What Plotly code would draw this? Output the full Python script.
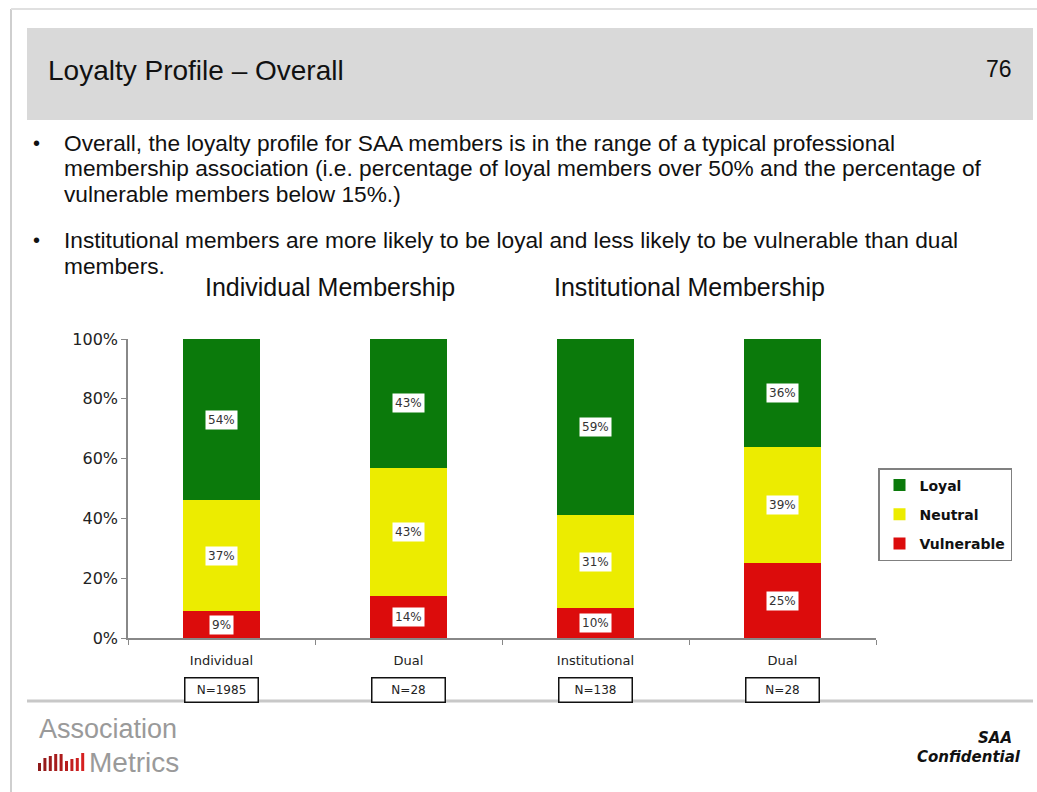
import plotly.graph_objects as go

# ---------------- data ----------------
categories = ["Individual", "Dual", "Institutional", "Dual"]
sample_sizes = ["N=1985", "N=28", "N=138", "N=28"]
vulnerable = [9, 14, 10, 25]
neutral = [37, 43, 31, 39]
loyal = [54, 43, 59, 36]
y_ticks = [0, 20, 40, 60, 80, 100]
group_titles = ["Individual Membership", "Institutional Membership"]
bullets = [
    ["Overall, the loyalty profile for SAA members is in the range of a typical professional",
     "membership association (i.e. percentage of loyal members over 50% and the percentage of",
     "vulnerable members below 15%.)"],
    ["Institutional members are more likely to be loyal and less likely to be vulnerable than dual",
     "members."],
]

W, H = 1037, 792
L, R, T, B = 128, 876, 339, 638  # plot area in pixels


def X(px):
    return (px - L) / (R - L)


def Y(py):
    return (B - py) / (B - T)


xs = list(range(len(categories)))
series = [
    ("Vulnerable", vulnerable, "#dc0c0c", 3),
    ("Neutral", neutral, "#ecec00", 2),
    ("Loyal", loyal, "#0b7a0b", 1),
]

fig = go.Figure()
for name, vals, col, rank in series:
    fig.add_trace(go.Bar(
        x=xs, y=vals, name=name, width=0.41,
        marker=dict(color=col, line=dict(width=0)),
        legendgroup=name, legendrank=rank, hoverinfo="skip",
    ))

annotations = []
# value labels (white boxes) at segment centres
base = [0] * len(xs)
for name, vals, col, rank in series:
    for i, v in enumerate(vals):
        annotations.append(dict(
            x=xs[i], y=base[i] + v / 2, xref="x", yref="y",
            text=f"{v}%", showarrow=False,
            font=dict(family="DejaVu Sans", size=12, color="#333333"),
            bgcolor="white", borderpad=2,
        ))
        base[i] += v

# N= boxes under category labels
for i, n in enumerate(sample_sizes):
    annotations.append(dict(
        x=xs[i], y=0, xref="x", yref="y", yanchor="middle", yshift=-52,
        text=n, showarrow=False,
        font=dict(family="DejaVu Sans", size=12, color="#222222"),
        bgcolor="white", bordercolor="#111111", borderwidth=1.5, borderpad=3,
        width=66, height=17,
    ))

# header texts
annotations.append(dict(x=X(46), y=Y(70), xref="paper", yref="paper", xanchor="left", yanchor="middle",
                        text="Loyalty Profile – Overall", showarrow=False,
                        font=dict(family="Liberation Sans", size=28, color="#111111")))
annotations.append(dict(x=X(1014), y=Y(69), xref="paper", yref="paper", xanchor="right", yanchor="middle",
                        text="76", showarrow=False,
                        font=dict(family="Liberation Sans", size=23, color="#111111")))

# bullets
line_y = [[143, 168, 194], [240, 266]]
for b, lines in enumerate(bullets):
    annotations.append(dict(x=X(31), y=Y(line_y[b][0]), xref="paper", yref="paper",
                            xanchor="left", yanchor="middle", text="•", showarrow=False,
                            font=dict(family="Liberation Sans", size=20, color="#111111")))
    for k, t in enumerate(lines):
        annotations.append(dict(x=X(62), y=Y(line_y[b][k]), xref="paper", yref="paper",
                                xanchor="left", yanchor="middle", text=t, showarrow=False,
                                font=dict(family="Liberation Sans", size=22.7, color="#111111")))

# group titles
for gx, gt in zip([330, 689], group_titles):
    annotations.append(dict(x=X(gx), y=Y(287), xref="paper", yref="paper",
                            xanchor="center", yanchor="middle", text=gt, showarrow=False,
                            font=dict(family="Liberation Sans", size=25, color="#111111")))

# footer
annotations.append(dict(x=X(37), y=Y(729), xref="paper", yref="paper", xanchor="left", yanchor="middle",
                        text="Association", showarrow=False,
                        font=dict(family="Liberation Sans", size=27, color="#9a9a9a")))
annotations.append(dict(x=X(87), y=Y(762), xref="paper", yref="paper", xanchor="left", yanchor="middle",
                        text="Metrics", showarrow=False,
                        font=dict(family="Liberation Sans", size=28, color="#9a9a9a")))
annotations.append(dict(x=X(995), y=Y(738), xref="paper", yref="paper", xanchor="center", yanchor="middle",
                        text="<b><i>SAA</i></b>", showarrow=False,
                        font=dict(family="DejaVu Sans", size=15, color="#111111")))
annotations.append(dict(x=X(1023), y=Y(757), xref="paper", yref="paper", xanchor="right", yanchor="middle",
                        text="<b><i>Confidential</i></b>", showarrow=False,
                        font=dict(family="DejaVu Sans", size=15, color="#111111")))

shapes = [
    # slide frame
    dict(type="line", xref="paper", yref="paper", x0=X(11), x1=X(11), y0=Y(9), y1=Y(792),
         line=dict(color="#cfcfcf", width=2), layer="below"),
    dict(type="line", xref="paper", yref="paper", x0=X(11), x1=X(1037), y0=Y(9), y1=Y(9),
         line=dict(color="#e0e0e0", width=2), layer="below"),
    # header band
    dict(type="rect", xref="paper", yref="paper", x0=X(27), x1=X(1033), y0=Y(28), y1=Y(120),
         fillcolor="#d9d9d9", line=dict(width=0), layer="below"),
    # footer separator
    dict(type="line", xref="paper", yref="paper", x0=X(27), x1=X(1033), y0=Y(701), y1=Y(701),
         line=dict(color="#c8c8c8", width=3), layer="below"),
]
# logo bars
logo_h = [8, 13, 15, 17, 17, 10, 12, 13, 18]
logo_c = ["#8e1a1a", "#961a1a", "#9e1b1b", "#a61c1c", "#ae1c1c", "#b81d1d", "#c21e1e", "#cc1f1f", "#d62020"]
for k, h in enumerate(logo_h):
    x0 = 38 + k * 5.4
    shapes.append(dict(type="rect", xref="paper", yref="paper", x0=X(x0), x1=X(x0 + 3),
                       y0=Y(771), y1=Y(771 - h), fillcolor=logo_c[k], line=dict(width=0)))

fig.update_layout(
    width=W, height=H,
    margin=dict(l=L, r=W - R, t=T, b=H - B, pad=0),
    paper_bgcolor="white", plot_bgcolor="white",
    barmode="stack", bargap=0.59,
    showlegend=True,
    legend=dict(
        x=X(878), y=Y(468), xanchor="left", yanchor="top",
        traceorder="grouped", tracegroupgap=8,
        font=dict(family="DejaVu Sans", size=14, color="#111111", weight="bold"),
        bgcolor="white", bordercolor="#808080", borderwidth=1.5,
        itemwidth=30,
    ),
    xaxis=dict(
        range=[-0.5, len(categories) - 0.5],
        tickmode="array", tickvals=xs, ticktext=categories,
        ticks="", ticklabelstandoff=10,
        tickfont=dict(family="DejaVu Sans", size=13, color="#222222"),
        showline=True, linecolor="#888888", linewidth=1.5,
        showgrid=False, zeroline=False, fixedrange=True,
        minor=dict(tickmode="array", tickvals=[k - 0.5 for k in range(len(categories) + 1)],
                   ticks="outside", ticklen=5, tickcolor="#888888", tickwidth=1, showgrid=False),
    ),
    yaxis=dict(
        range=[0, 100], tickmode="array", tickvals=y_ticks,
        ticktext=[f"{v}%" for v in y_ticks],
        ticks="outside", ticklen=5, tickcolor="#888888",
        tickfont=dict(family="DejaVu Sans", size=16, color="#222222"),
        showline=True, linecolor="#888888", linewidth=1.5,
        showgrid=False, zeroline=False, fixedrange=True,
    ),
    annotations=annotations,
    shapes=shapes,
)

fig.write_html(
    "out.html",
    config={"displayModeBar": False},
    post_script="document.body.style.margin='0';document.body.style.padding='0';document.body.style.overflow='hidden';",
)
